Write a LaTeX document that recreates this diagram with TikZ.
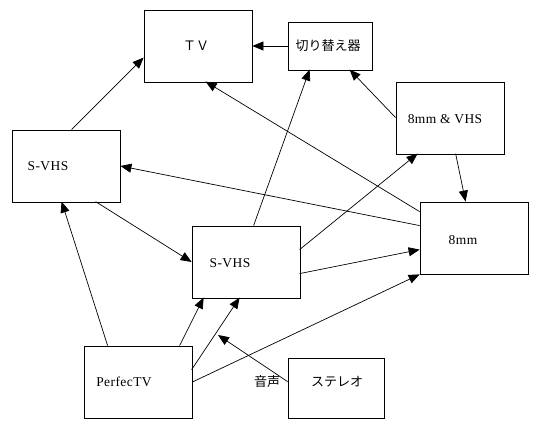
\documentclass[tikz,border=0pt]{standalone}
\usepackage{fontspec}
\setmainfont[LetterSpace=3]{Liberation Serif}
\newfontfamily\jpfont{Noto Sans CJK JP}
\usetikzlibrary{arrows.meta,calc}
\begin{document}
\begin{tikzpicture}[x=1pt,y=-1pt,
  box/.style={draw=black,line width=0.8pt,rectangle,inner sep=0pt,minimum width=108pt,minimum height=72pt},
  lbl/.style={inner sep=0pt,font=\fontsize{13.5}{15}\selectfont},
  jlbl/.style={inner sep=0pt,font=\jpfont\fontsize{13}{15}\selectfont},
  conn/.style={draw=black,line width=0.7pt,-{Triangle[length=11pt,width=9pt]}}]
\useasboundingbox (0,0) rectangle (540,427);
% boxes
\node[box] (tv) at (198,46) {};
\node[box,minimum width=84pt,minimum height=48pt] (sw) at (330,46) {};
\node[box] (mv) at (450,118) {};
\node[box] (e8) at (474,238) {};
\node[box] (sl) at (66,166) {};
\node[box] (sm) at (246,262) {};
\node[box] (pt) at (138,382) {};
\node[box,minimum width=96pt,minimum height=60pt] (st) at (336,388) {};
% texts
\node[jlbl] (ttv) at (196,46) {ＴＶ};
\node[jlbl] (tsw) at (328,46) {切り替え器};
\node[lbl] (tmv) at (445,119) {8mm \& VHS};
\node[lbl] (te8) at (463,240) {8mm};
\node[lbl] (tsl) at (48,166) {S-VHS};
\node[lbl] (tsm) at (230,263) {S-VHS};
\node[lbl] (tpt) at (124,382) {PerfecTV};
\node[jlbl] (tst) at (337,382) {ステレオ};
\node[jlbl] (tav) at (267,382) {音声};
\coordinate (avend) at (218,335);
% connectors
\draw[conn] ($(sl.north west)+(60,0)$) -- ($(tv.north west)+(0,48)$);
\draw[conn] (sw.west) -- (tv.east);
\draw[conn] ($(sm.north west)+(62,0)$) -- ($(sw.north west)+(22,48)$);
\draw[conn] ($(mv.north west)+(0,36)$) -- ($(sw.north west)+(62,48)$);
\draw[conn] ($(e8.north west)+(0,10)$) -- ($(tv.north west)+(62,72)$);
\draw[conn] ($(e8.north west)+(0,24)$) -- (sl.east);
\draw[conn] ($(mv.north west)+(60,72)$) -- ($(e8.north west)+(46,0)$);
\draw[conn] ($(sm.north west)+(108,24)$) -- ($(mv.north west)+(22,72)$);
\draw[conn] ($(sm.north west)+(108,48)$) -- ($(e8.north west)+(0,48)$);
\draw[conn] ($(sl.north west)+(84,72)$) -- (sm.west);
\draw[conn] ($(pt.north west)+(24,0)$) -- ($(sl.north west)+(50,72)$);
\draw[conn] ($(pt.north west)+(96,0)$) -- ($(sm.north west)+(12,72)$);
\draw[conn] ($(pt.north west)+(108,24)$) -- ($(sm.north west)+(48,72)$);
\draw[conn] (pt.east) -- (e8.south west);
\draw[conn] ($(st.north west)+(0,24)$) -- (avend);
\end{tikzpicture}
\end{document}
